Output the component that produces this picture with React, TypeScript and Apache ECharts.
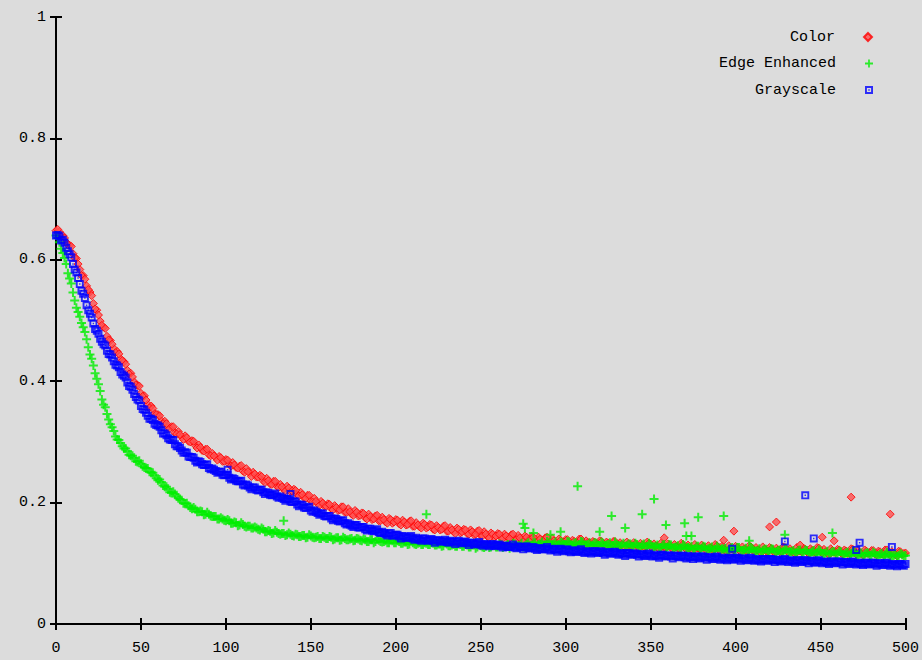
import React, { useEffect, useRef } from "react";
import * as echarts from "echarts";

// samples are read at x = 0, 2, 4, ... 500 (even) and x = 1, 3, ... 499 (odd)
const SAMPLE_STEP = 2;

const seriesNames = ["Color", "Edge Enhanced", "Grayscale"];

const colorEven = [
  .648,.646,.640,.629,.624,.610,.602,.584,.574,.557,
  .547,.528,.517,.499,.489,.474,.467,.454,.449,.437,
  .432,.418,.413,.399,.393,.380,.376,.362,.359,.347,
  .345,.335,.334,.324,.325,.315,.317,.308,.310,.301,
  .302,.294,.295,.286,.288,.279,.281,.274,.276,.268,
  .271,.263,.266,.258,.260,.252,.256,.249,.250,.242,
  .245,.236,.240,.231,.235,.227,.230,.222,.227,.218,
  .222,.213,.217,.208,.212,.203,.207,.199,.202,.194,
  .198,.190,.195,.187,.193,.184,.190,.181,.187,.178,
  .183,.175,.181,.172,.178,.170,.176,.168,.174,.166,
  .172,.165,.171,.163,.169,.161,.167,.160,.166,.158,
  .164,.156,.162,.155,.161,.153,.159,.152,.158,.150,
  .156,.149,.155,.147,.153,.146,.152,.144,.150,.143,
  .149,.142,.148,.141,.147,.140,.146,.139,.145,.138,
  .144,.137,.143,.136,.142,.135,.141,.134,.140,.133,
  .139,.133,.138,.132,.140,.131,.137,.134,.136,.130,
  .137,.131,.135,.129,.136,.130,.134,.128,.135,.129,
  .134,.128,.133,.127,.135,.128,.132,.127,.133,.126,
  .132,.126,.131,.125,.133,.126,.130,.124,.131,.125,
  .130,.124,.129,.123,.131,.124,.128,.122,.129,.123,
  .128,.122,.127,.121,.129,.122,.126,.121,.127,.120,
  .126,.120,.125,.119,.127,.121,.124,.119,.126,.120,
  .125,.119,.124,.118,.126,.119,.123,.117,.124,.118,
  .123,.117,.122,.116,.124,.118,.121,.116,.122,.116,
  .121,.115,.120,.115,.122,.116,.119,.114,.120,.115,
  .117,
];
const colorOdd = [
  .650,.638,.636,.625,.622,.603,.593,.574,.568,.551,
  .541,.519,.509,.492,.487,.468,.461,.447,.445,.434,
  .428,.412,.407,.394,.392,.375,.369,.356,.355,.345,
  .343,.330,.330,.322,.325,.313,.312,.304,.307,.300,
  .301,.290,.291,.285,.288,.277,.277,.270,.274,.268,
  .270,.260,.262,.257,.261,.250,.251,.243,.247,.242,
  .243,.233,.236,.230,.235,.225,.226,.219,.224,.219,
  .220,.211,.213,.207,.212,.201,.202,.195,.199,.194,
  .197,.188,.192,.188,.193,.184,.185,.179,.184,.179,
  .182,.173,.177,.173,.179,.170,.172,.166,.172,.168,
  .171,.163,.168,.164,.170,.161,.163,.158,.164,.160,
  .163,.155,.159,.156,.162,.153,.155,.149,.156,.152,
  .155,.148,.152,.148,.154,.145,.148,.142,.148,.145,
  .148,.141,.145,.141,.148,.139,.142,.136,.143,.139,
  .143,.135,.140,.136,.143,.135,.137,.132,.138,.135,
  .139,.132,.136,.133,.140,.131,.134,.129,.135,.132,
  .136,.128,.133,.130,.136,.128,.131,.125,.132,.129,
  .132,.125,.130,.127,.133,.125,.128,.123,.129,.126,
  .130,.123,.127,.124,.131,.123,.125,.120,.127,.124,
  .127,.120,.125,.122,.129,.120,.123,.118,.125,.122,
  .126,.119,.123,.120,.127,.119,.122,.117,.123,.120,
  .124,.117,.122,.119,.126,.118,.120,.115,.122,.119,
  .123,.116,.121,.118,.125,.117,.119,.114,.121,.118,
  .122,.115,.120,.117,.123,.115,.118,.113,.120,.117,
  .121,.114,.119,.115,.122,.114,.117,.112,.119,.116,
];

const edgeEven = [
  .640,.629,.611,.593,.569,.546,.521,.506,.489,.469,
  .444,.426,.404,.384,.361,.346,.329,.318,.304,.298,
  .289,.285,.277,.274,.267,.264,.258,.256,.249,.245,
  .237,.234,.226,.223,.216,.214,.207,.204,.198,.195,
  .190,.189,.185,.185,.181,.181,.177,.177,.173,.173,
  .170,.170,.166,.167,.163,.164,.160,.161,.158,.158,
  .155,.156,.152,.153,.150,.151,.148,.149,.147,.148,
  .145,.147,.144,.146,.143,.145,.142,.144,.141,.143,
  .141,.143,.140,.142,.139,.141,.139,.141,.138,.140,
  .137,.139,.136,.139,.136,.138,.135,.137,.134,.137,
  .134,.136,.133,.135,.132,.134,.131,.134,.131,.133,
  .131,.133,.130,.132,.129,.132,.129,.131,.128,.131,
  .128,.130,.127,.130,.127,.129,.126,.130,.127,.129,
  .127,.130,.128,.131,.128,.132,.129,.133,.129,.134,
  .130,.134,.131,.135,.130,.134,.131,.135,.131,.134,
  .131,.135,.130,.134,.131,.135,.130,.134,.130,.133,
  .129,.133,.130,.134,.129,.132,.128,.133,.129,.132,
  .128,.131,.127,.132,.128,.131,.127,.130,.126,.131,
  .127,.130,.126,.129,.125,.129,.126,.128,.124,.128,
  .125,.127,.124,.127,.123,.126,.124,.125,.122,.126,
  .122,.126,.121,.125,.122,.124,.120,.124,.121,.123,
  .120,.123,.119,.122,.120,.123,.119,.121,.118,.122,
  .118,.121,.117,.121,.118,.120,.116,.120,.117,.119,
  .116,.119,.115,.118,.116,.118,.114,.117,.115,.117,
  .114,.116,.113,.116,.114,.115,.112,.115,.113,.114,
  .113,
];
const edgeOdd = [
  .636,.618,.603,.578,.561,.533,.514,.496,.481,.456,
  .437,.413,.395,.370,.357,.337,.324,.309,.303,.293,
  .289,.279,.277,.268,.269,.260,.257,.251,.249,.240,
  .238,.228,.226,.217,.218,.210,.206,.199,.199,.192,
  .192,.185,.186,.180,.184,.178,.177,.173,.175,.171,
  .172,.166,.168,.162,.167,.161,.161,.158,.160,.156,
  .158,.152,.154,.149,.154,.149,.149,.146,.150,.146,
  .148,.144,.146,.142,.147,.143,.143,.141,.144,.141,
  .144,.139,.142,.138,.143,.139,.140,.137,.141,.138,
  .140,.136,.139,.134,.140,.136,.136,.134,.138,.134,
  .137,.133,.135,.131,.137,.132,.133,.131,.134,.131,
  .134,.130,.132,.128,.134,.129,.130,.128,.132,.128,
  .131,.127,.130,.125,.131,.127,.128,.126,.130,.127,
  .132,.126,.129,.125,.133,.128,.129,.127,.132,.129,
  .134,.128,.132,.128,.136,.130,.132,.130,.135,.131,
  .136,.130,.133,.128,.136,.130,.131,.129,.134,.130,
  .135,.128,.131,.127,.135,.129,.130,.128,.132,.128,
  .133,.127,.130,.125,.133,.127,.128,.126,.130,.126,
  .131,.124,.127,.123,.131,.124,.125,.123,.128,.123,
  .128,.122,.125,.120,.128,.122,.123,.120,.125,.121,
  .126,.120,.122,.118,.126,.120,.121,.118,.123,.119,
  .124,.118,.121,.116,.124,.118,.119,.117,.121,.117,
  .122,.116,.119,.114,.122,.116,.117,.115,.119,.115,
  .120,.114,.117,.112,.120,.114,.115,.112,.117,.113,
  .118,.112,.115,.110,.118,.112,.113,.111,.116,.112,
];

const grayEven = [
  .640,.639,.633,.620,.609,.593,.579,.560,.544,.525,
  .511,.495,.483,.470,.461,.450,.444,.433,.426,.415,
  .409,.398,.391,.379,.370,.359,.353,.343,.338,.330,
  .327,.319,.314,.306,.303,.296,.293,.286,.283,.276,
  .275,.269,.268,.263,.262,.257,.256,.252,.251,.246,
  .246,.241,.240,.236,.235,.230,.230,.225,.225,.221,
  .221,.217,.217,.213,.213,.210,.210,.206,.206,.202,
  .202,.197,.197,.192,.192,.187,.187,.183,.182,.178,
  .178,.174,.174,.170,.170,.166,.166,.162,.163,.159,
  .160,.156,.157,.154,.154,.151,.152,.148,.149,.146,
  .147,.144,.145,.142,.143,.141,.142,.139,.141,.138,
  .139,.137,.138,.136,.137,.135,.137,.135,.136,.134,
  .135,.133,.134,.132,.133,.131,.132,.130,.131,.129,
  .130,.128,.129,.127,.128,.126,.128,.126,.127,.125,
  .126,.124,.125,.123,.125,.123,.124,.122,.123,.121,
  .122,.120,.121,.119,.121,.119,.120,.118,.120,.118,
  .119,.117,.118,.116,.118,.116,.117,.115,.117,.115,
  .116,.114,.115,.113,.115,.113,.114,.112,.114,.112,
  .113,.111,.113,.111,.112,.110,.112,.110,.111,.109,
  .111,.109,.110,.108,.110,.108,.109,.107,.109,.107,
  .109,.107,.108,.106,.108,.106,.107,.105,.107,.105,
  .107,.105,.106,.104,.106,.104,.105,.103,.105,.103,
  .105,.103,.104,.102,.104,.102,.103,.101,.103,.101,
  .103,.101,.102,.100,.102,.100,.101,.099,.101,.099,
  .101,.099,.100,.098,.100,.098,.099,.097,.099,.097,
  .099,
];
const grayOdd = [
  .641,.632,.628,.614,.604,.584,.570,.549,.537,.517,
  .505,.486,.478,.465,.459,.445,.439,.427,.423,.411,
  .406,.392,.386,.374,.368,.354,.348,.338,.336,.328,
  .325,.314,.311,.304,.303,.293,.290,.282,.282,.275,
  .274,.266,.267,.262,.263,.255,.254,.249,.251,.245,
  .246,.238,.239,.235,.236,.228,.228,.222,.225,.220,
  .221,.214,.216,.212,.215,.208,.208,.203,.206,.201,
  .202,.194,.196,.191,.193,.185,.185,.180,.182,.177,
  .178,.171,.173,.169,.171,.164,.164,.160,.163,.159,
  .160,.154,.157,.153,.156,.150,.150,.146,.150,.146,
  .147,.141,.144,.142,.145,.139,.140,.137,.141,.137,
  .140,.134,.138,.136,.139,.134,.136,.132,.137,.133,
  .136,.130,.134,.131,.135,.129,.131,.128,.132,.129,
  .131,.126,.129,.127,.131,.125,.127,.123,.128,.125,
  .127,.122,.125,.123,.127,.121,.123,.119,.124,.120,
  .123,.118,.121,.119,.123,.117,.119,.116,.120,.117,
  .120,.114,.118,.116,.119,.114,.116,.112,.117,.114,
  .116,.111,.115,.112,.116,.111,.112,.109,.114,.111,
  .113,.108,.112,.110,.113,.108,.110,.107,.111,.108,
  .111,.106,.110,.107,.111,.106,.108,.105,.109,.106,
  .109,.104,.108,.105,.109,.104,.106,.103,.107,.104,
  .107,.102,.106,.103,.107,.102,.104,.101,.105,.102,
  .105,.100,.104,.101,.105,.100,.102,.099,.103,.100,
  .103,.098,.102,.099,.103,.098,.100,.097,.101,.098,
  .101,.096,.100,.097,.101,.096,.098,.095,.099,.096,
];

// scattered points off the main bands: [x, value]
const colorOutliers: [number, number][] = [
  [358, .142], [393, .138], [399, .153], [420, .160], [424, .168],
  [438, .130], [451, .143], [458, .137], [468, .209], [491, .181],
];
const edgeOutliers: [number, number][] = [
  [134, .170], [218, .181], [275, .165], [276, .158], [281, .150],
  [291, .147], [297, .152], [307, .227], [320, .152], [327, .178],
  [335, .158], [345, .181], [352, .206], [359, .163], [370, .166],
  [371, .145], [374, .145], [378, .176], [393, .178], [408, .137],
  [429, .147], [457, .150],
];
const grayOutliers: [number, number][] = [
  [101, .254], [138, .214], [398, .124], [429, .136], [441, .212],
  [446, .141], [471, .122], [473, .134], [492, .127],
];

const xMin = 0, xMax = 500, xStep = 50;
const yMin = 0, yMax = 1, yStep = 0.2;

const DIAMOND = "diamond";
const PLUS = "path://M3.5,0H5.5V3.5H9V5.5H5.5V9H3.5V5.5H0V3.5H3.5Z";
const BOXDOT = "path://M0,0H10V10H0Z M2.4,2.4V7.6H7.6V2.4Z M4.1,4.1H5.9V5.9H4.1Z";

function toPairs(even: number[], odd: number[], extra: [number, number][]) {
  const a = even.map((v, i) => [i * SAMPLE_STEP, v]);
  const b = odd.map((v, i) => [i * SAMPLE_STEP + 1, v]);
  return a.concat(b).concat(extra);
}

const FONT = "Liberation Mono";

export default function App() {
  const ref = useRef<HTMLDivElement>(null);
  useEffect(() => {
    document.body.style.margin = "0";
    document.body.style.background = "#dcdcdc";
    const chart = echarts.init(ref.current!, null, { renderer: "svg" });
    const axisLine = { show: true, lineStyle: { color: "#000", width: 2 } };
    const axisTick = { show: true, inside: true, length: 6, lineStyle: { color: "#000", width: 2 } };
    const label = { color: "#000", fontFamily: FONT, fontSize: 15 };
    const legendBase = {
      orient: "vertical",
      align: "right",
      right: 49,
      padding: 0,
      itemWidth: 8,
      itemHeight: 8,
      selectedMode: false,
      textStyle: { color: "#000", fontFamily: FONT, fontSize: 15, lineHeight: 16, padding: [0, 24, 0, 0] },
    };
    chart.setOption({
      animation: false,
      backgroundColor: "#dcdcdc",
      grid: { left: 56, right: 13, top: 17, bottom: 36, containLabel: false },
      xAxis: [
        {
          type: "value", min: xMin, max: xMax, interval: xStep, position: "bottom",
          axisLine, axisTick, splitLine: { show: false },
          axisLabel: { ...label, margin: 17 },
        },
        {
          type: "value", min: xMin, max: xMax, interval: xStep, position: "top",
          axisLine, axisTick, splitLine: { show: false }, axisLabel: { show: false },
        },
      ],
      yAxis: [
        {
          type: "value", min: yMin, max: yMax, interval: yStep, position: "left",
          axisLine, axisTick, splitLine: { show: false },
          axisLabel: { ...label, margin: 10 },
        },
        {
          type: "value", min: yMin, max: yMax, interval: yStep, position: "right",
          axisLine, axisTick, splitLine: { show: false }, axisLabel: { show: false },
        },
      ],
      legend: [
        { ...legendBase, top: 29, data: [seriesNames[0]] },
        { ...legendBase, top: 55.5, data: [seriesNames[1]] },
        { ...legendBase, top: 82, data: [seriesNames[2]] },
      ],
      series: [
        {
          name: seriesNames[0], type: "scatter", symbol: DIAMOND, symbolSize: 8,
          itemStyle: { color: "#ff5050", borderColor: "#ff0000", borderWidth: 1 },
          data: toPairs(colorEven, colorOdd, colorOutliers),
        },
        {
          name: seriesNames[1], type: "scatter", symbol: PLUS, symbolSize: 9,
          itemStyle: { color: "#00ee00" },
          data: toPairs(edgeEven, edgeOdd, edgeOutliers),
        },
        {
          name: seriesNames[2], type: "scatter", symbol: BOXDOT, symbolSize: 8,
          itemStyle: { color: "#0000ff" },
          data: toPairs(grayEven, grayOdd, grayOutliers),
        },
      ],
    });
    return () => chart.dispose();
  }, []);
  return <div ref={ref} style={{ width: 922, height: 660 }} />;
}
